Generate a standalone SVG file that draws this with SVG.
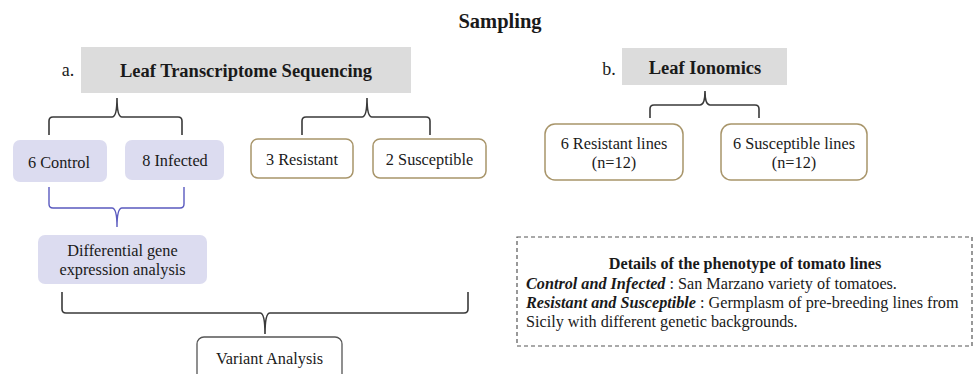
<svg xmlns="http://www.w3.org/2000/svg" width="974" height="374" viewBox="0 0 974 374">
  <style>
    text { font-family: "Liberation Serif", "Times New Roman", serif; fill: #1a1a1a; }
    .title { font-size: 20.5px; font-weight: bold; }
    .head { font-size: 18.5px; font-weight: bold; }
    .lbl { font-size: 16.3px; }
    .tag { font-size: 18px; }
    .note { font-size: 16.2px; }
    .gray { fill: #dcdcdc; }
    .lav { fill: #dcdcf0; }
    .tan { fill: #ffffff; stroke: #a8956a; stroke-width: 1.5; }
    .plain { fill: #ffffff; stroke: #555555; stroke-width: 1.3; }
    .brace { fill: none; stroke: #3a3a3a; stroke-width: 1.6; }
    .brace-blue { fill: none; stroke: #5a5abf; stroke-width: 1.4; }
  </style>

  <text class="title" x="500" y="28" text-anchor="middle">Sampling</text>

  <!-- a. transcriptome branch -->
  <g id="leaf-transcriptome">
    <text class="tag" x="68" y="76" text-anchor="middle">a.</text>
    <rect class="gray" x="81" y="47" width="330" height="46"/>
    <text class="head" x="246" y="77" text-anchor="middle">Leaf Transcriptome Sequencing</text>
  </g>

  <g id="control">
    <rect class="lav" x="13" y="140" width="94" height="42" rx="7"/>
    <text class="lbl" x="59" y="168" text-anchor="middle">6 Control</text>
  </g>
  <g id="infected">
    <rect class="lav" x="125" y="140" width="99" height="40" rx="7"/>
    <text class="lbl" x="175" y="166" text-anchor="middle">8 Infected</text>
  </g>
  <g id="resistant">
    <rect class="tan" x="251" y="139" width="102" height="39" rx="7"/>
    <text class="lbl" x="302" y="165" text-anchor="middle">3 Resistant</text>
  </g>
  <g id="susceptible">
    <rect class="tan" x="373" y="139" width="113" height="39" rx="7"/>
    <text class="lbl" x="429.5" y="165" text-anchor="middle">2 Susceptible</text>
  </g>

  <g id="deg">
    <rect class="lav" x="38" y="235" width="169" height="49" rx="7"/>
    <text class="lbl" x="122.5" y="256" text-anchor="middle">Differential gene</text>
    <text class="lbl" x="122.5" y="275" text-anchor="middle">expression analysis</text>
  </g>

  <g id="variant">
    <rect class="plain" x="197" y="337" width="145" height="50" rx="7"/>
    <text class="lbl" x="269.5" y="364" text-anchor="middle">Variant Analysis</text>
  </g>

  <!-- b. ionomics branch -->
  <g id="leaf-ionomics">
    <text class="tag" x="609" y="75" text-anchor="middle">b.</text>
    <rect class="gray" x="622" y="48" width="165" height="37"/>
    <text class="head" x="705" y="74" text-anchor="middle">Leaf Ionomics</text>
  </g>
  <g id="resistant-lines">
    <rect class="tan" x="545" y="124" width="138" height="56" rx="10"/>
    <text class="lbl" x="614" y="149" text-anchor="middle">6 Resistant lines</text>
    <text class="lbl" x="614" y="168" text-anchor="middle">(n=12)</text>
  </g>
  <g id="susceptible-lines">
    <rect class="tan" x="721" y="124" width="146" height="56" rx="10"/>
    <text class="lbl" x="794" y="149" text-anchor="middle">6 Susceptible lines</text>
    <text class="lbl" x="794" y="168" text-anchor="middle">(n=12)</text>
  </g>

  <!-- phenotype notes -->
  <g id="details">
    <rect x="517" y="237" width="455" height="109" fill="none" stroke="#555555" stroke-width="1.2" stroke-dasharray="4 3"/>
    <text class="note" x="745" y="269" text-anchor="middle" font-weight="bold">Details of the phenotype of tomato lines</text>
    <text class="note" x="526" y="289"><tspan font-weight="bold" font-style="italic">Control and Infected</tspan> : San Marzano variety of tomatoes.</text>
    <text class="note" x="526" y="308"><tspan font-weight="bold" font-style="italic">Resistant and Susceptible</tspan> : Germplasm of pre-breeding lines from</text>
    <text class="note" x="526" y="327">Sicily with different genetic backgrounds.</text>
  </g>

  <!-- grouping braces -->
  <g id="connectors">
    <path class="brace" d="M49 135 V121 Q49 117 53 117 H112 Q117 117 117 98 Q117 117 122 117 H178 Q182 117 182 121 V135"/>
    <path class="brace" d="M302 135 V121 Q302 117 306 117 H362 Q367 117 367 98 Q367 117 372 117 H426 Q430 117 430 121 V135"/>
    <path class="brace" d="M650 118 V109 Q650 105 654 105 H700 Q705 105 705 91 Q705 105 710 105 H755 Q759 105 759 109 V118"/>
    <path class="brace-blue" d="M49 187 V204 Q49 208 53 208 H112 Q117 208 117 227 Q117 208 122 208 H180 Q184 208 184 204 V187"/>
    <path class="brace" d="M62 292 V309 Q62 313 66 313 H260 Q265 313 265 334 Q265 313 270 313 H464 Q468 313 468 309 V292"/>
  </g>
</svg>
